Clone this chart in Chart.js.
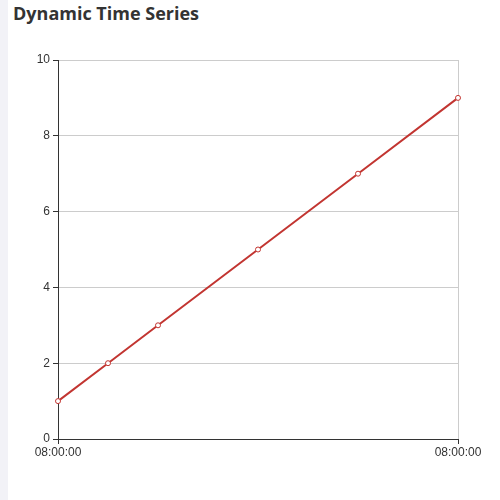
<!DOCTYPE html>
<html>
<head>
    <script src="https://cdn.jsdelivr.net/npm/chart.js@4.4.0/dist/chart.umd.min.js"></script>
    <style>
        body { margin: 0; width: 500px; height: 500px; overflow: hidden; background: #fff; position: relative; }
        #strip { position: absolute; left: 0; top: 0; width: 8px; height: 500px; background: #f2f2f7; }
        #title {
            position: absolute; left: 13px; top: 1px; margin: 0;
            font-family: "Open Sans", sans-serif; font-weight: bold; font-size: 18px; color: #333;
        }
        #chartContainer { position: absolute; left: 8px; top: 0; width: 492px; height: 500px; }
    </style>
</head>
<body>
    <div id="strip"></div>
    <h3 id="title">Dynamic Time Series</h3>
    <div id="chartContainer">
        <canvas id="myChart"></canvas>
    </div>

<script>
    // time offsets in ms, and the values
    var times = [0, 1, 2, 4, 6, 8];
    var values = [1, 2, 3, 5, 7, 9];
    var yTicks = [0, 2, 4, 6, 8, 10];

    // 8h offset -> 08:00:00 labels
    function fmtTime(ms) {
        var d = new Date(8 * 3600 * 1000 + ms);
        var p = n => String(n).padStart(2, '0');
        return p(d.getUTCHours()) + ':' + p(d.getUTCMinutes()) + ':' + p(d.getUTCSeconds());
    }

    var points = times.map((t, i) => ({ x: t, y: values[i] }));

    var ctx = document.getElementById('myChart').getContext('2d');
    new Chart(ctx, {
        type: 'line',
        data: {
            datasets: [{
                data: points,
                borderColor: '#c23531',
                borderWidth: 2,
                pointRadius: 2.5,
                pointBorderWidth: 1,
                pointBackgroundColor: '#fff',
                pointBorderColor: '#c23531',
                tension: 0,
                clip: false
            }]
        },
        options: {
            responsive: true,
            maintainAspectRatio: false,
            animation: false,
            layout: { padding: { left: 0, right: 42, top: 60, bottom: 31 } },
            plugins: { legend: { display: false }, tooltip: { enabled: false } },
            scales: {
                x: {
                    type: 'linear',
                    min: times[0],
                    max: times[times.length - 1],
                    afterBuildTicks: axis => { axis.ticks = [{ value: times[0] }, { value: times[times.length - 1] }]; },
                    afterFit: axis => { axis.height = 30; },
                    grid: { color: '#ccc', tickColor: '#333', tickLength: 5 },
                    border: { color: '#333', width: 1 },
                    ticks: {
                        color: '#333', font: { size: 12, family: 'Liberation Sans, Arial' },
                        padding: 1, maxRotation: 0,
                        callback: v => fmtTime(v)
                    }
                },
                y: {
                    min: 0,
                    max: 10,
                    afterBuildTicks: axis => { axis.ticks = yTicks.map(v => ({ value: v })); },
                    afterFit: axis => { axis.width = 50; },
                    grid: { color: '#ccc', tickColor: '#333', tickLength: 5 },
                    border: { color: '#333', width: 1 },
                    ticks: { color: '#333', font: { size: 12, family: 'Liberation Sans, Arial' }, padding: 3 }
                }
            }
        }
    });
</script>
</body>
</html>
